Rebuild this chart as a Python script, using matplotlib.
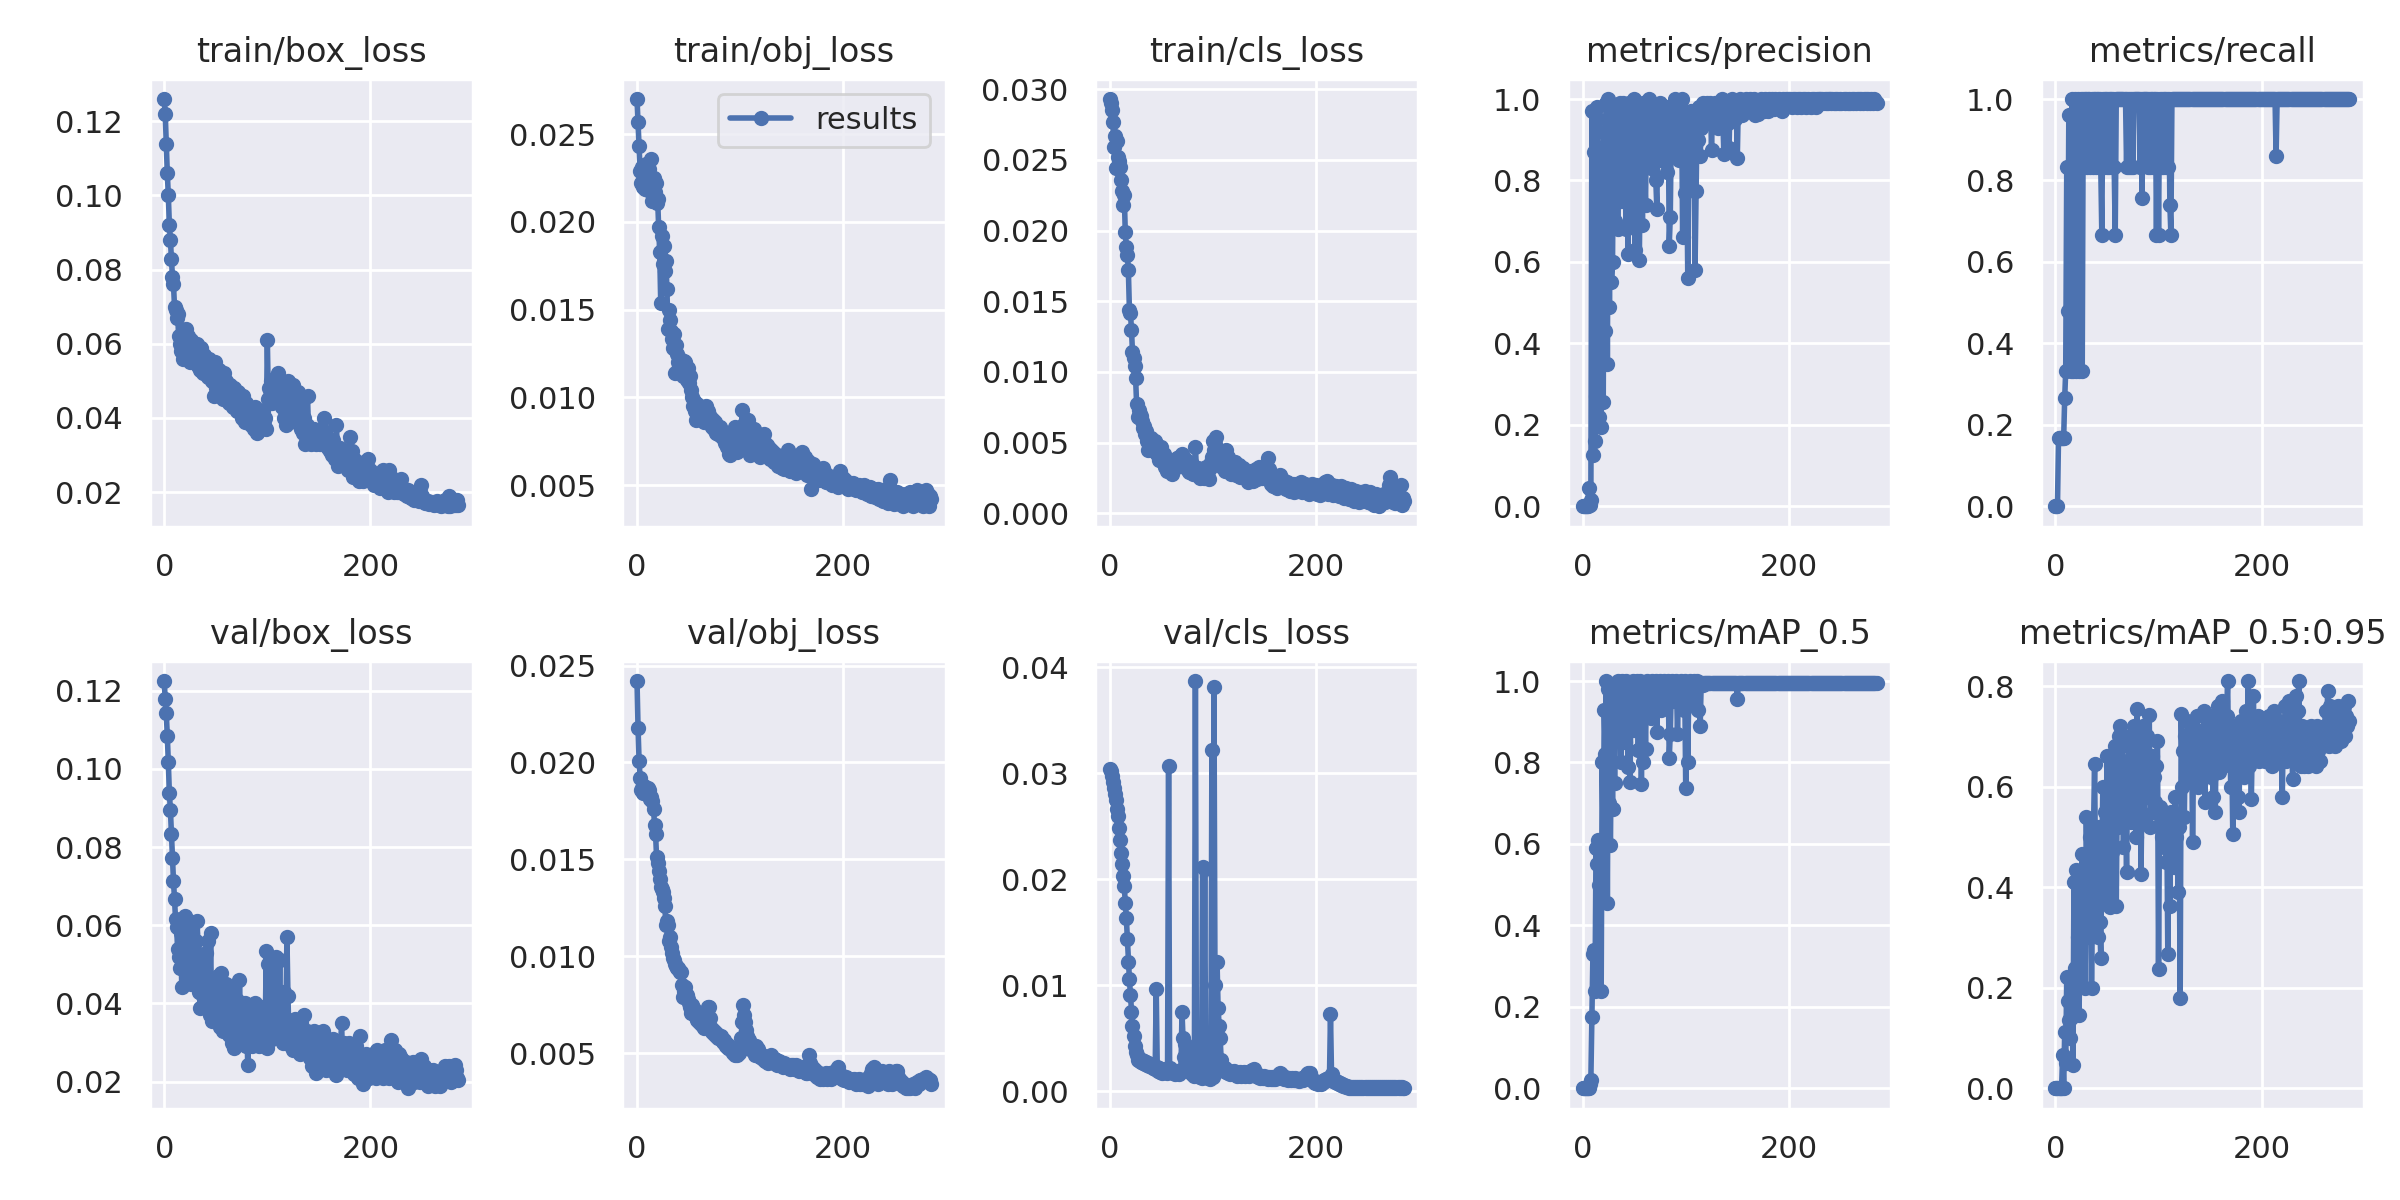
import numpy as np
import matplotlib
matplotlib.use("Agg")
import matplotlib.pyplot as plt
import seaborn as sns

# per-epoch values (epochs 0..285)
titles = ['train/box_loss', 'train/obj_loss', 'train/cls_loss', 'metrics/precision', 'metrics/recall',
          'val/box_loss', 'val/obj_loss', 'val/cls_loss', 'metrics/mAP_0.5', 'metrics/mAP_0.5:0.95']

train_box = [
    0.126, 0.122, 0.114, 0.106, 0.100, 0.092, 0.088, 0.083, 0.078, 0.076,
    0.070, 0.069, 0.067, 0.068, 0.062, 0.060, 0.058, 0.061, 0.056, 0.063,
    0.059, 0.064, 0.057, 0.062, 0.058, 0.055, 0.061, 0.057, 0.060, 0.056,
    0.058, 0.055, 0.060, 0.054, 0.057, 0.053, 0.059, 0.055, 0.052, 0.057,
    0.053, 0.055, 0.051, 0.056, 0.052, 0.054, 0.050, 0.053, 0.046, 0.055,
    0.048, 0.052, 0.047, 0.053, 0.046, 0.051, 0.049, 0.045, 0.052, 0.047,
    0.050, 0.046, 0.048, 0.044, 0.049, 0.045, 0.047, 0.043, 0.048, 0.044,
    0.046, 0.042, 0.047, 0.043, 0.045, 0.040, 0.046, 0.042, 0.039, 0.044,
    0.041, 0.043, 0.039, 0.042, 0.038, 0.041, 0.040, 0.037, 0.043, 0.039,
    0.036, 0.040, 0.038, 0.041, 0.037, 0.039, 0.042, 0.038, 0.040, 0.037,
    0.061, 0.045, 0.048, 0.046, 0.050, 0.044, 0.049, 0.047, 0.051, 0.045,
    0.052, 0.048, 0.046, 0.050, 0.043, 0.049, 0.040, 0.047, 0.038, 0.045,
    0.050, 0.044, 0.048, 0.042, 0.046, 0.049, 0.041, 0.045, 0.039, 0.043,
    0.047, 0.040, 0.044, 0.037, 0.042, 0.036, 0.040, 0.033, 0.038, 0.046,
    0.035, 0.037, 0.033, 0.036, 0.034, 0.037, 0.035, 0.033, 0.036, 0.034,
    0.036, 0.033, 0.035, 0.037, 0.034, 0.040, 0.036, 0.033, 0.035, 0.032,
    0.034, 0.031, 0.033, 0.030, 0.034, 0.032, 0.029, 0.038, 0.031, 0.027,
    0.032, 0.029, 0.031, 0.028, 0.030, 0.027, 0.031, 0.029, 0.026, 0.030,
    0.035, 0.028, 0.031, 0.024, 0.029, 0.026, 0.024, 0.028, 0.025, 0.023,
    0.027, 0.024, 0.026, 0.023, 0.028, 0.025, 0.027, 0.024, 0.029, 0.025,
    0.026, 0.023, 0.025, 0.022, 0.024, 0.023, 0.025, 0.022, 0.024, 0.021,
    0.023, 0.022, 0.026, 0.021, 0.025, 0.022, 0.024, 0.020, 0.026, 0.022,
    0.024, 0.021, 0.023, 0.020, 0.022, 0.021, 0.020, 0.022, 0.020, 0.021,
    0.0235, 0.020, 0.021, 0.0195, 0.020, 0.019, 0.0205, 0.019, 0.0195, 0.0185,
    0.019, 0.0185, 0.018, 0.019, 0.0185, 0.018, 0.019, 0.0175, 0.020, 0.022,
    0.019, 0.018, 0.0175, 0.017, 0.0177, 0.017, 0.0175, 0.0168, 0.017, 0.0172,
    0.0168, 0.017, 0.0165, 0.0172, 0.0167, 0.0175, 0.0165, 0.017, 0.0163, 0.0168,
    0.0172, 0.0165, 0.018, 0.0168, 0.0175, 0.0164, 0.019, 0.0162, 0.0172, 0.0168,
    0.0175, 0.0165, 0.018, 0.0166, 0.0178, 0.0166,
]

train_obj = [
    0.0270, 0.0257, 0.0243, 0.0229, 0.0222, 0.0231, 0.0220, 0.0226, 0.0219, 0.0233,
    0.0224, 0.0218, 0.0230, 0.0221, 0.0236, 0.0212, 0.0225, 0.0217, 0.0222, 0.0211,
    0.0213, 0.0197, 0.0183, 0.0154, 0.0192, 0.0176, 0.0186, 0.0172, 0.0178, 0.0162,
    0.0139, 0.0150, 0.0144, 0.0138, 0.0133, 0.0128, 0.0136, 0.0114, 0.0130, 0.0125,
    0.0120, 0.0118, 0.0122, 0.0114, 0.0119, 0.0112, 0.0121, 0.0120, 0.0110, 0.0117,
    0.0108, 0.0112, 0.0104, 0.0100, 0.0095, 0.0098, 0.0092, 0.0087, 0.0096, 0.0090,
    0.0094, 0.0089, 0.0093, 0.0088, 0.0091, 0.0086, 0.0090, 0.0095, 0.0087, 0.0092,
    0.0090, 0.0085, 0.0088, 0.0083, 0.0087, 0.0082, 0.0086, 0.0080, 0.0084, 0.0079,
    0.0083, 0.0078, 0.0081, 0.0077, 0.0080, 0.0074, 0.0078, 0.0072, 0.0076, 0.0068,
    0.0067, 0.0075, 0.0070, 0.0078, 0.0072, 0.0083, 0.0074, 0.0069, 0.0076, 0.0071,
    0.0075, 0.0080, 0.0093, 0.0078, 0.0085, 0.0072, 0.0081, 0.0076, 0.0087, 0.0070,
    0.0067, 0.0079, 0.0073, 0.0082, 0.0075, 0.0069, 0.0078, 0.0072, 0.0076, 0.0066,
    0.0074, 0.0070, 0.0077, 0.0079, 0.0071, 0.0068, 0.0073, 0.0067, 0.0071, 0.0065,
    0.0070, 0.0066, 0.0069, 0.0063, 0.0068, 0.0064, 0.0067, 0.0061, 0.0065, 0.0062,
    0.0066, 0.0060, 0.0064, 0.0059, 0.0063, 0.0067, 0.0070, 0.0062, 0.0058, 0.0063,
    0.0061, 0.0064, 0.0059, 0.0062, 0.0057, 0.0061, 0.0065, 0.0058, 0.0062, 0.0060,
    0.0069, 0.0063, 0.0058, 0.0066, 0.0060, 0.0056, 0.0064, 0.0057, 0.0061, 0.0048,
    0.0059, 0.0062, 0.0055, 0.0058, 0.0054, 0.0057, 0.0053, 0.0056, 0.0059, 0.0054,
    0.0060, 0.0055, 0.0057, 0.0052, 0.0056, 0.0053, 0.0055, 0.0051, 0.0054, 0.0050,
    0.0051, 0.0053, 0.0050, 0.0054, 0.0052, 0.0049, 0.0055, 0.0058, 0.0053, 0.0051,
    0.0054, 0.0050, 0.0053, 0.0049, 0.0052, 0.0048, 0.0051, 0.0050, 0.0049, 0.0051,
    0.0048, 0.0050, 0.0047, 0.0049, 0.0048, 0.0050, 0.0047, 0.0049, 0.0046, 0.0048,
    0.0050, 0.0047, 0.0049, 0.0045, 0.0048, 0.0046, 0.0049, 0.0044, 0.0047, 0.0046,
    0.0048, 0.0043, 0.0047, 0.0045, 0.0048, 0.0042, 0.0046, 0.0044, 0.0047, 0.0041,
    0.0045, 0.0043, 0.0046, 0.0040, 0.0049, 0.0053, 0.0047, 0.0042, 0.0045, 0.0039,
    0.0044, 0.0041, 0.0046, 0.0040, 0.0043, 0.0039, 0.0045, 0.0042, 0.0038, 0.0044,
    0.0040, 0.0045, 0.0041, 0.0043, 0.0039, 0.0046, 0.0040, 0.0044, 0.0038, 0.0042,
    0.0046, 0.0040, 0.0047, 0.0039, 0.0044, 0.0041, 0.0046, 0.0038, 0.0045, 0.0040,
    0.0047, 0.0039, 0.0045, 0.0038, 0.0044, 0.0042,
]

train_cls = [
    0.0293, 0.0290, 0.0285, 0.0277, 0.0259, 0.0267, 0.0244, 0.0263, 0.0252, 0.0249,
    0.0245, 0.0236, 0.0228, 0.0218, 0.0225, 0.0199, 0.0188, 0.0183, 0.0172, 0.0144,
    0.0142, 0.0130, 0.0114, 0.0110, 0.0104, 0.0096, 0.0077, 0.0068, 0.0073, 0.0070,
    0.0069, 0.0065, 0.0060, 0.0062, 0.0056, 0.0058, 0.0051, 0.0045, 0.0052, 0.0049,
    0.0053, 0.0047, 0.0050, 0.0044, 0.0051, 0.0049, 0.0042, 0.0046, 0.0038, 0.0044,
    0.0047, 0.0040, 0.0036, 0.0042, 0.0033, 0.0030, 0.0036, 0.0032, 0.0038, 0.0029,
    0.0028, 0.0034, 0.0031, 0.0036, 0.0033, 0.0039, 0.0035, 0.0040, 0.0034, 0.0037,
    0.0042, 0.0036, 0.0039, 0.0033, 0.0038, 0.0031, 0.0036, 0.0029, 0.0034, 0.0030,
    0.0035, 0.0028, 0.0033, 0.0047, 0.0031, 0.0027, 0.0032, 0.0025, 0.0030, 0.0026,
    0.0031, 0.0025, 0.0029, 0.0033, 0.0027, 0.0030, 0.0024, 0.0032, 0.0036, 0.0040,
    0.0051, 0.0045, 0.0049, 0.0054, 0.0041, 0.0038, 0.0043, 0.0035, 0.0039, 0.0033,
    0.0037, 0.0042, 0.0030, 0.0045, 0.0034, 0.0040, 0.0032, 0.0037, 0.0028, 0.0035,
    0.0031, 0.0036, 0.0027, 0.0033, 0.0029, 0.0034, 0.0026, 0.0031, 0.0028, 0.0032,
    0.0026, 0.0030, 0.0025, 0.0029, 0.0022, 0.0028, 0.0024, 0.0030, 0.0026, 0.0023,
    0.0029, 0.0025, 0.0031, 0.0024, 0.0028, 0.0033, 0.0027, 0.0030, 0.0025, 0.0032,
    0.0029, 0.0034, 0.0028, 0.0039, 0.0031, 0.0026, 0.0021, 0.0025, 0.0019, 0.0023,
    0.0020, 0.0024, 0.0018, 0.0022, 0.0025, 0.0027, 0.0021, 0.0024, 0.0019, 0.0023,
    0.0020, 0.0017, 0.0022, 0.0019, 0.0021, 0.0016, 0.0020, 0.0018, 0.0021, 0.0015,
    0.0019, 0.0021, 0.0016, 0.0020, 0.0018, 0.0022, 0.0015, 0.0019, 0.0017, 0.0021,
    0.0016, 0.0020, 0.0018, 0.0014, 0.0019, 0.0017, 0.0021, 0.0015, 0.0018, 0.0016,
    0.0020, 0.0014, 0.0017, 0.0019, 0.0013, 0.0018, 0.0016, 0.0021, 0.0015, 0.0022,
    0.0017, 0.0023, 0.0014, 0.0019, 0.0016, 0.0020, 0.0013, 0.0018, 0.0015, 0.0019,
    0.0014, 0.0017, 0.0012, 0.0016, 0.0019, 0.0013, 0.0017, 0.0011, 0.0015, 0.0018,
    0.0012, 0.0016, 0.0010, 0.0014, 0.0017, 0.0011, 0.0015, 0.0009, 0.0013, 0.0016,
    0.0010, 0.0014, 0.0008, 0.0012, 0.0015, 0.0009, 0.0013, 0.0016, 0.0010, 0.0014,
    0.0008, 0.0012, 0.0015, 0.0007, 0.0011, 0.0013, 0.0006, 0.0010, 0.0014, 0.0008,
    0.0012, 0.0005, 0.0010, 0.0013, 0.0007, 0.0011, 0.0014, 0.0008, 0.0012, 0.0009,
    0.0013, 0.0020, 0.0026, 0.0022, 0.0011, 0.0008, 0.0012, 0.0007, 0.0011, 0.0009,
    0.0013, 0.0008, 0.0020, 0.0006, 0.0011, 0.0009,
]

precision = [
    0.0, 0.0, 0.0, 0.0, 0.0, 0.0, 0.044, 0.003, 0.016, 0.97,
    0.125, 0.87, 0.16, 0.27, 0.98, 0.95, 0.22, 0.88, 0.195, 0.76,
    0.257, 0.92, 0.43, 0.99, 0.35, 1.0, 0.49, 0.89, 0.55, 0.60,
    0.95, 0.70, 0.86, 0.97, 0.68, 0.90, 0.99, 0.75, 0.93, 0.99,
    0.82, 0.97, 0.68, 0.92, 0.62, 0.99, 0.78, 0.88, 0.96, 0.70,
    1.0, 0.63, 0.91, 0.98, 0.74, 0.605, 0.87, 0.95, 0.69, 0.99,
    0.84, 0.74, 0.97, 0.88, 1.0, 0.91, 0.83, 0.96, 0.89, 0.93,
    0.98, 0.80, 0.73, 0.94, 0.87, 0.99, 0.85, 0.92, 0.97, 0.88,
    0.95, 0.90, 0.82, 0.98, 0.64, 0.71, 0.93, 0.86, 0.96, 0.89,
    1.0, 0.92, 0.98, 0.85, 0.99, 0.94, 1.0, 0.66, 0.88, 0.77,
    0.95, 0.83, 0.56, 0.91, 0.79, 0.97, 0.86, 0.93, 0.89, 0.58,
    0.775, 0.95, 0.90, 0.98, 0.86, 0.93, 0.97, 0.99, 0.95, 0.98,
    0.96, 0.99, 0.94, 0.97, 0.99, 0.875, 0.98, 0.95, 0.99, 0.97,
    0.98, 0.93, 0.99, 0.96, 0.98, 1.0, 0.95, 0.865, 0.99, 0.97,
    0.98, 0.94, 0.88, 0.99, 0.96, 1.0, 0.97, 0.99, 0.95, 0.98,
    0.855, 0.99, 0.97, 1.0, 0.98, 0.96, 0.99, 0.97, 1.0, 0.98,
    0.99, 0.98, 1.0, 0.97, 0.99, 0.98, 1.0, 0.96, 0.99, 0.97,
    0.964, 0.99, 0.97, 1.0, 0.98, 0.99, 0.97, 1.0, 0.98, 0.99,
    0.97, 1.0, 0.99, 0.98, 1.0, 0.99, 0.975, 1.0, 0.98, 0.99,
    1.0, 0.98, 0.99, 0.97, 1.0, 0.99, 0.98, 1.0, 0.99, 1.0,
    0.99, 1.0, 0.99, 0.98, 1.0, 0.99, 1.0, 0.99, 0.98, 1.0,
    0.99, 1.0, 0.98, 0.99, 1.0, 0.99, 1.0, 0.98, 0.99, 1.0,
    0.99, 0.98, 1.0, 0.99, 1.0, 0.99, 0.98, 1.0, 0.99, 1.0,
    1.0, 0.99, 1.0, 0.99, 0.995, 1.0, 0.99, 1.0, 0.99, 1.0,
    1.0, 0.99, 1.0, 0.995, 0.99, 1.0, 0.99, 1.0, 0.995, 0.99,
    1.0, 0.99, 0.995, 1.0, 0.99, 1.0, 0.995, 0.99, 1.0, 0.99,
    0.995, 1.0, 0.99, 1.0, 0.995, 0.99, 1.0, 0.995, 1.0, 0.99,
    1.0, 0.995, 0.99, 1.0, 0.995, 1.0, 0.99, 1.0, 0.995, 0.99,
    1.0, 0.995, 0.99, 1.0, 0.995, 0.99,
]

recall = [
    0.0, 0.0, 0.0, 0.167, 0.167, 0.167, 0.167, 0.167, 0.167, 0.265,
    0.333, 0.833, 0.48, 0.96, 0.833, 0.333, 1.0, 0.333, 0.833, 1.0,
    0.333, 0.833, 1.0, 0.333, 0.833, 1.0, 0.333, 1.0, 0.833, 1.0,
    1.0, 0.833, 1.0, 1.0, 0.833, 1.0, 0.833, 1.0, 1.0, 0.833,
    1.0, 1.0, 0.833, 1.0, 0.833, 0.667, 1.0, 0.833, 1.0, 1.0,
    0.833, 1.0, 0.833, 1.0, 1.0, 0.833, 1.0, 0.833, 0.667, 1.0,
    1.0, 1.0, 1.0, 1.0, 1.0, 1.0, 1.0, 1.0, 1.0, 0.833,
    1.0, 0.833, 1.0, 0.833, 1.0, 0.833, 1.0, 1.0, 1.0, 1.0,
    1.0, 1.0, 0.833, 1.0, 0.757, 1.0, 1.0, 1.0, 1.0, 1.0,
    0.833, 1.0, 0.833, 1.0, 1.0, 0.833, 1.0, 1.0, 0.667, 1.0,
    0.667, 1.0, 0.833, 1.0, 0.833, 1.0, 1.0, 0.833, 1.0, 0.833,
    1.0, 0.74, 0.667, 1.0, 1.0, 1.0, 1.0, 1.0, 1.0, 1.0,
    1.0, 1.0, 1.0, 1.0, 1.0, 1.0, 1.0, 1.0, 1.0, 1.0,
    1.0, 1.0, 1.0, 1.0, 1.0, 1.0, 1.0, 1.0, 1.0, 1.0,
    1.0, 1.0, 1.0, 1.0, 1.0, 1.0, 1.0, 1.0, 1.0, 1.0,
    1.0, 1.0, 1.0, 1.0, 1.0, 1.0, 1.0, 1.0, 1.0, 1.0,
    1.0, 1.0, 1.0, 1.0, 1.0, 1.0, 1.0, 1.0, 1.0, 1.0,
    1.0, 1.0, 1.0, 1.0, 1.0, 1.0, 1.0, 1.0, 1.0, 1.0,
    1.0, 1.0, 1.0, 1.0, 1.0, 1.0, 1.0, 1.0, 1.0, 1.0,
    1.0, 1.0, 1.0, 1.0, 1.0, 1.0, 1.0, 1.0, 1.0, 1.0,
    1.0, 1.0, 1.0, 1.0, 1.0, 1.0, 1.0, 1.0, 1.0, 1.0,
    1.0, 1.0, 1.0, 1.0, 0.861, 1.0, 1.0, 1.0, 1.0, 1.0,
    1.0, 1.0, 1.0, 1.0, 1.0, 1.0, 1.0, 1.0, 1.0, 1.0,
    1.0, 1.0, 1.0, 1.0, 1.0, 1.0, 1.0, 1.0, 1.0, 1.0,
    1.0, 1.0, 1.0, 1.0, 1.0, 1.0, 1.0, 1.0, 1.0, 1.0,
    1.0, 1.0, 1.0, 1.0, 1.0, 1.0, 1.0, 1.0, 1.0, 1.0,
    1.0, 1.0, 1.0, 1.0, 1.0, 1.0, 1.0, 1.0, 1.0, 1.0,
    1.0, 1.0, 1.0, 1.0, 1.0, 1.0, 1.0, 1.0, 1.0, 1.0,
    1.0, 1.0, 1.0, 1.0, 1.0, 1.0,
]

val_box = [
    0.1225, 0.1178, 0.1142, 0.1085, 0.1017, 0.0938, 0.0896, 0.0833, 0.0771, 0.0713,
    0.0667, 0.0615, 0.0595, 0.0540, 0.0520, 0.0490, 0.0580, 0.0443, 0.0530, 0.0600,
    0.0625, 0.0500, 0.0560, 0.0460, 0.0610, 0.0520, 0.0450, 0.0580, 0.0490, 0.0540,
    0.0470, 0.0560, 0.0610, 0.0500, 0.0430, 0.0388, 0.0520, 0.0460, 0.0420, 0.0490,
    0.0400, 0.0530, 0.0560, 0.0440, 0.0370, 0.0580, 0.0355, 0.0450, 0.0410, 0.0380,
    0.0430, 0.0360, 0.0470, 0.0390, 0.0340, 0.0478, 0.0400, 0.0330, 0.0420, 0.0370,
    0.0450, 0.0350, 0.0410, 0.0320, 0.0440, 0.0380, 0.0300, 0.0420, 0.0286, 0.0390,
    0.0340, 0.0410, 0.0310, 0.0460, 0.0350, 0.0300, 0.0380, 0.0330, 0.0400, 0.0290,
    0.0360, 0.0242, 0.0340, 0.0310, 0.0380, 0.0290, 0.0350, 0.0320, 0.0400, 0.0300,
    0.0370, 0.0330, 0.0290, 0.0360, 0.0310, 0.0390, 0.0340, 0.0290, 0.0350, 0.0534,
    0.0286, 0.0500, 0.0330, 0.0520, 0.0380, 0.0310, 0.0480, 0.0350, 0.0520, 0.0330,
    0.0400, 0.0340, 0.0510, 0.0320, 0.0370, 0.0300, 0.0430, 0.0330, 0.0360, 0.0570,
    0.0420, 0.0310, 0.0340, 0.0290, 0.0330, 0.0280, 0.0320, 0.0360, 0.0300, 0.0340,
    0.0290, 0.0330, 0.0270, 0.0350, 0.0310, 0.0280, 0.0370, 0.0300, 0.0330, 0.0270,
    0.0310, 0.0260, 0.0300, 0.0240, 0.0290, 0.0330, 0.0270, 0.0222, 0.0300, 0.0250,
    0.0320, 0.0260, 0.0290, 0.0240, 0.0330, 0.0270, 0.0310, 0.0230, 0.0280, 0.0260,
    0.0300, 0.0250, 0.0290, 0.0230, 0.0310, 0.0260, 0.0280, 0.0218, 0.0270, 0.0300,
    0.0250, 0.0290, 0.0350, 0.0260, 0.0300, 0.0240, 0.0280, 0.0230, 0.0270, 0.0300,
    0.0250, 0.0280, 0.0230, 0.0270, 0.0220, 0.0260, 0.0290, 0.0240, 0.0210, 0.0250,
    0.0316, 0.0240, 0.0210, 0.0193, 0.0250, 0.0220, 0.0270, 0.0230, 0.0260, 0.0210,
    0.0250, 0.0220, 0.0270, 0.0230, 0.0260, 0.0210, 0.0280, 0.0240, 0.0220, 0.0260,
    0.0230, 0.0270, 0.0210, 0.0250, 0.0280, 0.0220, 0.0260, 0.0240, 0.0210, 0.0270,
    0.0306, 0.0240, 0.0260, 0.0210, 0.0280, 0.0230, 0.0250, 0.0200, 0.0270, 0.0230,
    0.0260, 0.0210, 0.0240, 0.0220, 0.0250, 0.0200, 0.0183, 0.0230, 0.0210, 0.0240,
    0.0220, 0.0250, 0.0200, 0.0240, 0.0230, 0.0210, 0.0250, 0.0220, 0.0200, 0.0257,
    0.0230, 0.0210, 0.0240, 0.0200, 0.0230, 0.0220, 0.0190, 0.0230, 0.0210, 0.0220,
    0.0200, 0.0230, 0.0210, 0.0190, 0.0220, 0.0200, 0.0210, 0.0188, 0.0200, 0.0220,
    0.0230, 0.0210, 0.0240, 0.0220, 0.0230, 0.0210, 0.0240, 0.0220, 0.0200, 0.0230,
    0.0240, 0.0220, 0.0242, 0.0230, 0.0210, 0.0203,
]

val_obj = [
    0.0242, 0.0218, 0.0201, 0.0192, 0.0186, 0.0187, 0.0184, 0.0188, 0.0185, 0.0186,
    0.0184, 0.0187, 0.0186, 0.0181, 0.0182, 0.0180, 0.0176, 0.0168, 0.0163, 0.0151,
    0.0148, 0.0144, 0.0140, 0.0136, 0.0135, 0.0133, 0.0130, 0.0126, 0.0116, 0.0118,
    0.0116, 0.0108, 0.0110, 0.0105, 0.0102, 0.0099, 0.0098, 0.0096, 0.0095, 0.0094,
    0.0094, 0.0093, 0.0092, 0.0092, 0.0085, 0.0079, 0.0082, 0.0084, 0.0080, 0.0078,
    0.0076, 0.0074, 0.0071, 0.0075, 0.0072, 0.0073, 0.0070, 0.0069, 0.0067, 0.0068,
    0.0066, 0.0067, 0.0065, 0.0066, 0.0064, 0.0063, 0.0064, 0.0070, 0.0072, 0.0074,
    0.0074, 0.0068, 0.0063, 0.0061, 0.0062, 0.0060, 0.0061, 0.0059, 0.0060, 0.0058,
    0.0058, 0.0059, 0.0057, 0.0056, 0.0057, 0.0055, 0.0054, 0.0055, 0.0053, 0.0054,
    0.0052, 0.0053, 0.0051, 0.0050, 0.0051, 0.0049, 0.0050, 0.0049, 0.0051, 0.0050,
    0.0052, 0.0058, 0.0066, 0.0075, 0.0070, 0.0066, 0.0062, 0.0059, 0.0055, 0.0057,
    0.0052, 0.0054, 0.0051, 0.0053, 0.0049, 0.0054, 0.0050, 0.0052, 0.0049, 0.0048,
    0.0048, 0.0049, 0.0047, 0.0048, 0.0046, 0.0046, 0.0047, 0.0045, 0.0048, 0.0046,
    0.0049, 0.0047, 0.0046, 0.0045, 0.0047, 0.0046, 0.0044, 0.0045, 0.0046, 0.0044,
    0.0045, 0.0044, 0.0043, 0.0045, 0.0044, 0.0043, 0.0044, 0.0043, 0.0042, 0.0044,
    0.0043, 0.0044, 0.0042, 0.0043, 0.0044, 0.0042, 0.0043, 0.0041, 0.0043, 0.0042,
    0.0043, 0.0042, 0.0041, 0.0043, 0.0040, 0.0040, 0.0044, 0.0049, 0.0045, 0.0042,
    0.0043, 0.0040, 0.0042, 0.0039, 0.0041, 0.0038, 0.0040, 0.0037, 0.0039, 0.0038,
    0.0037, 0.0039, 0.0038, 0.0040, 0.0037, 0.0039, 0.0038, 0.0040, 0.0037, 0.0039,
    0.0038, 0.0040, 0.0041, 0.0039, 0.0042, 0.0043, 0.0040, 0.0038, 0.0039, 0.0037,
    0.0038, 0.0036, 0.0037, 0.0038, 0.0036, 0.0037, 0.0035, 0.0037, 0.0036, 0.0035,
    0.0037, 0.0036, 0.0034, 0.0036, 0.0035, 0.0037, 0.0034, 0.0036, 0.0035, 0.0034,
    0.0036, 0.0034, 0.0037, 0.0035, 0.0033, 0.0038, 0.0034, 0.0040, 0.0042, 0.0041,
    0.0043, 0.0039, 0.0036, 0.0041, 0.0034, 0.0040, 0.0035, 0.0038, 0.0041, 0.0036,
    0.0040, 0.0035, 0.0039, 0.0034, 0.0041, 0.0036, 0.0038, 0.0034, 0.0040, 0.0037,
    0.0039, 0.0041, 0.0041, 0.0038, 0.0035, 0.0036, 0.0034, 0.0035, 0.0033, 0.0034,
    0.0033, 0.0032, 0.0033, 0.0032, 0.0033, 0.0032, 0.0033, 0.0033, 0.0034, 0.0033,
    0.0032, 0.0034, 0.0035, 0.0034, 0.0036, 0.0035, 0.0036, 0.0037, 0.0036, 0.0037,
    0.0038, 0.0036, 0.0037, 0.0035, 0.0036, 0.0034,
]

val_cls = [
    0.0304, 0.0302, 0.0297, 0.0292, 0.0286, 0.0280, 0.0275, 0.0266, 0.0260, 0.0248,
    0.0237, 0.0225, 0.0214, 0.0203, 0.0194, 0.0178, 0.0164, 0.0144, 0.0122, 0.0106,
    0.0091, 0.0075, 0.0062, 0.0052, 0.0043, 0.0037, 0.0034, 0.0030, 0.0031, 0.0029,
    0.0028, 0.0030, 0.0027, 0.0029, 0.0026, 0.0028, 0.0025, 0.0027, 0.0024, 0.0026,
    0.0024, 0.0025, 0.0022, 0.0024, 0.0021, 0.0097, 0.0023, 0.0019, 0.0022, 0.0018,
    0.0021, 0.0017, 0.0020, 0.0018, 0.0021, 0.0017, 0.0019, 0.0307, 0.0022, 0.0018,
    0.0020, 0.0017, 0.0019, 0.0016, 0.0018, 0.0017, 0.0019, 0.0016, 0.0018, 0.0020,
    0.0075, 0.0050, 0.0032, 0.0045, 0.0028, 0.0038, 0.0022, 0.0035, 0.0018, 0.0025,
    0.0016, 0.0020, 0.0015, 0.0387, 0.0019, 0.0015, 0.0018, 0.0014, 0.0017, 0.0013,
    0.0212, 0.0016, 0.0210, 0.0014, 0.0017, 0.0013, 0.0016, 0.0012, 0.0015, 0.0322,
    0.0014, 0.0381, 0.0100, 0.0021, 0.0122, 0.0079, 0.0062, 0.0050, 0.0030, 0.0023,
    0.0021, 0.0019, 0.0022, 0.0018, 0.0020, 0.0017, 0.0019, 0.0016, 0.0018, 0.0017,
    0.0019, 0.0016, 0.0018, 0.0015, 0.0017, 0.0016, 0.0018, 0.0015, 0.0017, 0.0016,
    0.0018, 0.0015, 0.0017, 0.0016, 0.0018, 0.0015, 0.0017, 0.0019, 0.0020, 0.0018,
    0.0021, 0.0017, 0.0015, 0.0016, 0.0014, 0.0015, 0.0013, 0.0015, 0.0014, 0.0013,
    0.0015, 0.0013, 0.0014, 0.0012, 0.0014, 0.0013, 0.0012, 0.0014, 0.0012, 0.0013,
    0.0012, 0.0014, 0.0013, 0.0015, 0.0016, 0.0017, 0.0016, 0.0014, 0.0013, 0.0012,
    0.0014, 0.0012, 0.0013, 0.0011, 0.0013, 0.0012, 0.0011, 0.0013, 0.0012, 0.0011,
    0.0013, 0.0011, 0.0012, 0.0010, 0.0012, 0.0011, 0.0013, 0.0011, 0.0012, 0.0014,
    0.0015, 0.0016, 0.0017, 0.0016, 0.0017, 0.0014, 0.0012, 0.0010, 0.0009, 0.0008,
    0.0009, 0.0008, 0.0007, 0.0009, 0.0008, 0.0007, 0.0008, 0.0009, 0.0011, 0.0010,
    0.0012, 0.0011, 0.0013, 0.0012, 0.0073, 0.0016, 0.0010, 0.0011, 0.0009, 0.0010,
    0.0008, 0.0009, 0.0007, 0.0008, 0.0006, 0.0007, 0.0005, 0.0006, 0.0005, 0.0004,
    0.0005, 0.0004, 0.0003, 0.0004, 0.0003, 0.0004, 0.0003, 0.0004, 0.0003, 0.0004,
    0.0003, 0.0004, 0.0003, 0.0004, 0.0003, 0.0004, 0.0003, 0.0004, 0.0003, 0.0004,
    0.0003, 0.0004, 0.0003, 0.0004, 0.0003, 0.0004, 0.0003, 0.0004, 0.0003, 0.0004,
    0.0003, 0.0004, 0.0003, 0.0004, 0.0003, 0.0004, 0.0003, 0.0004, 0.0003, 0.0004,
    0.0003, 0.0004, 0.0003, 0.0004, 0.0003, 0.0004, 0.0003, 0.0004, 0.0003, 0.0004,
    0.0003, 0.0004, 0.0003, 0.0004, 0.0003, 0.0003,
]

map50 = [
    0.0, 0.0, 0.0, 0.0, 0.0, 0.0, 0.0, 0.01, 0.02, 0.175,
    0.33, 0.34, 0.24, 0.59, 0.55, 0.61, 0.50, 0.58, 0.24, 0.80,
    0.60, 0.93, 0.82, 1.0, 0.456, 0.98, 0.70, 0.597, 0.93, 0.686,
    0.99, 0.75, 0.97, 0.90, 1.0, 0.86, 0.95, 0.80, 1.0, 0.92,
    0.99, 0.85, 1.0, 0.94, 0.79, 0.97, 0.752, 0.99, 0.91, 1.0,
    0.88, 0.99, 0.95, 1.0, 0.83, 0.97, 1.0, 0.747, 0.94, 0.80,
    0.98, 0.833, 1.0, 0.95, 0.99, 0.92, 0.91, 1.0, 0.97, 0.99,
    0.95, 1.0, 0.874, 0.98, 0.96, 1.0, 0.93, 0.99, 0.97, 1.0,
    0.94, 0.99, 0.96, 1.0, 0.81, 0.87, 0.98, 1.0, 0.95, 0.99,
    0.97, 1.0, 0.87, 0.98, 0.95, 1.0, 0.97, 0.99, 0.93, 1.0,
    0.738, 0.96, 0.80, 0.99, 1.0, 0.97, 0.99, 0.95, 1.0, 0.98,
    0.99, 1.0, 0.93, 0.99, 0.89, 0.995, 0.995, 0.99, 0.995, 0.995,
    0.995, 0.995, 0.995, 0.995, 0.995, 0.995, 0.995, 0.995, 0.995, 0.995,
    0.995, 0.995, 0.995, 0.995, 0.995, 0.995, 0.995, 0.995, 0.995, 0.995,
    0.995, 0.995, 0.995, 0.995, 0.995, 0.995, 0.995, 0.995, 0.995, 0.995,
    0.955, 0.995, 0.995, 0.995, 0.995, 0.995, 0.995, 0.995, 0.995, 0.995,
    0.995, 0.995, 0.995, 0.995, 0.995, 0.995, 0.995, 0.995, 0.995, 0.995,
    0.995, 0.995, 0.995, 0.995, 0.995, 0.995, 0.995, 0.995, 0.995, 0.995,
    0.995, 0.995, 0.995, 0.995, 0.995, 0.995, 0.995, 0.995, 0.995, 0.995,
    0.995, 0.995, 0.995, 0.995, 0.995, 0.995, 0.995, 0.995, 0.995, 0.995,
    0.995, 0.995, 0.995, 0.995, 0.995, 0.995, 0.995, 0.995, 0.995, 0.995,
    0.995, 0.995, 0.995, 0.995, 0.995, 0.995, 0.995, 0.995, 0.995, 0.995,
    0.995, 0.995, 0.995, 0.995, 0.995, 0.995, 0.995, 0.995, 0.995, 0.995,
    0.995, 0.995, 0.995, 0.995, 0.995, 0.995, 0.995, 0.995, 0.995, 0.995,
    0.995, 0.995, 0.995, 0.995, 0.995, 0.995, 0.995, 0.995, 0.995, 0.995,
    0.995, 0.995, 0.995, 0.995, 0.995, 0.995, 0.995, 0.995, 0.995, 0.995,
    0.995, 0.995, 0.995, 0.995, 0.995, 0.995, 0.995, 0.995, 0.995, 0.995,
    0.995, 0.995, 0.995, 0.995, 0.995, 0.995, 0.995, 0.995, 0.995, 0.995,
    0.995, 0.995, 0.995, 0.995, 0.995, 0.995,
]

map50_95 = [
    0.0, 0.0, 0.0, 0.0, 0.0, 0.0, 0.0, 0.066, 0.0, 0.112,
    0.05, 0.222, 0.173, 0.135, 0.10, 0.14, 0.20, 0.047, 0.41, 0.24,
    0.435, 0.24, 0.30, 0.146, 0.40, 0.31, 0.465, 0.33, 0.42, 0.20,
    0.54, 0.37, 0.44, 0.30, 0.50, 0.20, 0.37, 0.52, 0.645, 0.40,
    0.48, 0.30, 0.52, 0.33, 0.26, 0.45, 0.60, 0.38, 0.55, 0.43,
    0.66, 0.50, 0.58, 0.36, 0.64, 0.47, 0.62, 0.52, 0.68, 0.363,
    0.60, 0.52, 0.70, 0.72, 0.55, 0.68, 0.48, 0.63, 0.57, 0.43,
    0.65, 0.60, 0.70, 0.53, 0.66, 0.59, 0.72, 0.61, 0.50, 0.754,
    0.62, 0.55, 0.68, 0.427, 0.60, 0.72, 0.53, 0.65, 0.58, 0.70,
    0.63, 0.743, 0.52, 0.60, 0.66, 0.55, 0.62, 0.57, 0.64, 0.69,
    0.237, 0.56, 0.53, 0.50, 0.55, 0.48, 0.52, 0.45, 0.54, 0.268,
    0.50, 0.363, 0.55, 0.47, 0.52, 0.44, 0.58, 0.50, 0.54, 0.39,
    0.52, 0.18, 0.745, 0.60, 0.67, 0.54, 0.70, 0.62, 0.73, 0.65,
    0.68, 0.61, 0.72, 0.49, 0.66, 0.70, 0.63, 0.74, 0.60, 0.69,
    0.66, 0.71, 0.62, 0.68, 0.75, 0.57, 0.70, 0.64, 0.72, 0.67,
    0.74, 0.62, 0.69, 0.58, 0.73, 0.55, 0.70, 0.66, 0.76, 0.63,
    0.71, 0.68, 0.77, 0.64, 0.70, 0.66, 0.74, 0.81, 0.65, 0.72,
    0.60, 0.68, 0.505, 0.70, 0.64, 0.72, 0.67, 0.58, 0.55, 0.69,
    0.73, 0.66, 0.71, 0.62, 0.69, 0.75, 0.67, 0.81, 0.64, 0.71,
    0.575, 0.70, 0.78, 0.66, 0.72, 0.68, 0.74, 0.65, 0.71, 0.69,
    0.72, 0.67, 0.70, 0.65, 0.73, 0.69, 0.66, 0.74, 0.68, 0.71,
    0.64, 0.70, 0.75, 0.67, 0.72, 0.65, 0.69, 0.73, 0.66, 0.70,
    0.58, 0.71, 0.68, 0.76, 0.65, 0.72, 0.70, 0.77, 0.66, 0.74,
    0.615, 0.73, 0.69, 0.78, 0.67, 0.75, 0.81, 0.70, 0.64, 0.72,
    0.68, 0.64, 0.71, 0.66, 0.70, 0.64, 0.69, 0.67, 0.72, 0.65,
    0.70, 0.66, 0.69, 0.64, 0.72, 0.67, 0.70, 0.65, 0.71, 0.68,
    0.69, 0.72, 0.75, 0.70, 0.79, 0.68, 0.76, 0.71, 0.74, 0.69,
    0.72, 0.68, 0.75, 0.70, 0.76, 0.72, 0.73, 0.69, 0.74, 0.71,
    0.76, 0.70, 0.74, 0.72, 0.77, 0.73,
]

series = [train_box, train_obj, train_cls, precision, recall,
          val_box, val_obj, val_cls, map50, map50_95]

sns.set_theme()

fig, ax = plt.subplots(2, 5, figsize=(12, 6), tight_layout=True)
ax = ax.ravel()
for i, (s, y) in enumerate(zip(titles, series)):
    x = np.arange(len(y))
    ax[i].plot(x, y, marker='.', label='results', linewidth=2, markersize=9)
    ax[i].set_title(s, fontsize=12)
ax[1].legend()

fig.savefig('out.png', dpi=200)
